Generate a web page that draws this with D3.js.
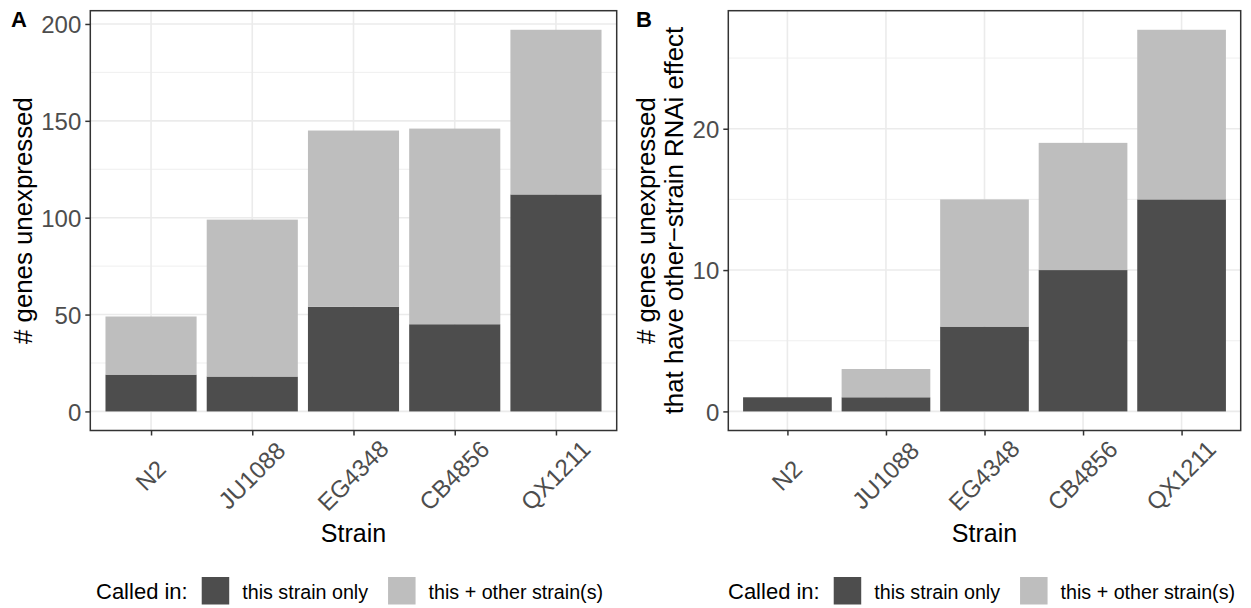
<!DOCTYPE html>
<html>
<head>
<meta charset="utf-8" />
<title>Unexpressed genes per strain</title>
<style>
  body { margin: 0; background: #fff; }
  #chart svg { display: block; font-family: "Liberation Sans", Arial, Helvetica, sans-serif; }
</style>
</head>
<body>
<div id="chart"></div>
<script src="https://cdnjs.cloudflare.com/ajax/libs/d3/7.8.5/d3.min.js"></script>
<script>
// data
var strains = ["N2", "JU1088", "EG4348", "CB4856", "QX1211"];
var seriesNames = ["this strain only", "this + other strain(s)"];
var seriesColors = ["#4d4d4d", "#bebebe"];

// panel A: all unexpressed genes
var onlyA = [19, 18, 54, 45, 112];
var otherA = [30, 81, 91, 101, 85];
var ticksA = [0, 50, 100, 150, 200];

// panel B: unexpressed genes with other-strain RNAi effect
var onlyB = [1, 1, 6, 10, 15];
var otherB = [0, 2, 9, 9, 12];
var ticksB = [0, 10, 20];

var width = 1251, height = 608;
var svg = d3.select("#chart").append("svg")
  .attr("width", width)
  .attr("height", height);

drawPanel({
  tag: "A", tagX: 11,
  left: 90.3, right: 616.7, top: 10.7, bottom: 430.5,
  only: onlyA, other: otherA, ticks: ticksA,
  ytitle: ["# genes unexpressed"], ytitleX: 32,
  legendX: 96
});
drawPanel({
  tag: "B", tagX: 636,
  left: 728.3, right: 1240.7, top: 10.7, bottom: 430.5,
  only: onlyB, other: otherB, ticks: ticksB,
  ytitle: ["# genes unexpressed", "that have other\u2212strain RNAi effect"], ytitleX: 683,
  legendX: 728
});

function drawPanel(p) {
  var rows = strains.map(function(s, i) {
    return { strain: s, only: p.only[i], other: p.other[i] };
  });
  var stack = d3.stack().keys(["only", "other"])(rows);
  var maxV = d3.max(rows, function(d) { return d.only + d.other; });

  var x = d3.scalePoint().domain(strains).range([p.left, p.right]).padding(0.6);
  var y = d3.scaleLinear().domain([-maxV * 0.05, maxV * 1.05]).range([p.bottom, p.top]);
  var barW = x.step() * 0.9;

  var g = svg.append("g");

  // minor grid
  var minor = [];
  for (var i = 0; i < p.ticks.length; i++) {
    var step = p.ticks[1] - p.ticks[0];
    var m = p.ticks[i] + step / 2;
    if (m < y.domain()[1]) minor.push(m);
  }
  g.selectAll(".minor").data(minor).enter().append("line")
    .attr("x1", p.left).attr("x2", p.right)
    .attr("y1", function(d) { return y(d); }).attr("y2", function(d) { return y(d); })
    .attr("stroke", "#ebebeb").attr("stroke-width", 0.8);

  // major grid
  g.selectAll(".hmaj").data(p.ticks).enter().append("line")
    .attr("x1", p.left).attr("x2", p.right)
    .attr("y1", function(d) { return y(d); }).attr("y2", function(d) { return y(d); })
    .attr("stroke", "#ebebeb").attr("stroke-width", 1.6);
  g.selectAll(".vmaj").data(strains).enter().append("line")
    .attr("x1", function(d) { return x(d); }).attr("x2", function(d) { return x(d); })
    .attr("y1", p.top).attr("y2", p.bottom)
    .attr("stroke", "#ebebeb").attr("stroke-width", 1.6);

  // bars
  g.selectAll(".layer").data(stack).enter().append("g")
    .attr("fill", function(d, i) { return seriesColors[i]; })
    .selectAll("rect").data(function(d) { return d; }).enter().append("rect")
    .attr("x", function(d) { return x(d.data.strain) - barW / 2; })
    .attr("width", barW)
    .attr("y", function(d) { return y(d[1]); })
    .attr("height", function(d) { return y(d[0]) - y(d[1]); });

  // border
  g.append("rect")
    .attr("x", p.left).attr("y", p.top)
    .attr("width", p.right - p.left).attr("height", p.bottom - p.top)
    .attr("fill", "none").attr("stroke", "#333333").attr("stroke-width", 1.5);

  // y axis
  var yAxis = g.append("g")
    .attr("transform", "translate(" + p.left + ",0)")
    .call(d3.axisLeft(y).tickValues(p.ticks).tickSize(5).tickPadding(4));
  yAxis.select(".domain").remove();
  yAxis.selectAll(".tick line").attr("stroke", "#333333").attr("stroke-width", 1.5);
  yAxis.selectAll(".tick text")
    .attr("fill", "#4d4d4d").style("font-size", "24px")
    .attr("dy", "0.36em");

  // x axis
  var xAxis = g.append("g")
    .attr("transform", "translate(0," + p.bottom + ")")
    .call(d3.axisBottom(x).tickSize(5).tickPadding(0));
  xAxis.select(".domain").remove();
  xAxis.selectAll(".tick line").attr("stroke", "#333333").attr("stroke-width", 1.5);
  xAxis.selectAll(".tick text")
    .attr("fill", "#4d4d4d").style("font-size", "24px")
    .attr("text-anchor", "middle")
    .attr("y", 0).attr("dy", "0.35em")
    .attr("transform", "translate(-1,45) rotate(-45)");

  // titles
  g.append("text")
    .attr("x", (p.left + p.right) / 2).attr("y", 542)
    .attr("text-anchor", "middle")
    .style("font-size", "25px")
    .text("Strain");

  var cy = (p.top + p.bottom) / 2;
  var n = p.ytitle.length;
  p.ytitle.forEach(function(t, i) {
    var bx = p.ytitleX - (n - 1 - i) * 28;
    g.append("text")
      .attr("transform", "translate(" + bx + "," + cy + ") rotate(-90)")
      .attr("text-anchor", "middle")
      .style("font-size", "25.8px")
      .text(t);
  });

  g.append("text")
    .attr("x", p.tagX).attr("y", 27)
    .style("font-size", "22px").style("font-weight", "bold")
    .text(p.tag);

  // legend
  var lg = g.append("g");
  var key = 27.5, baseY = 599.3, keyTop = 577;
  var title = lg.append("text")
    .attr("x", p.legendX).attr("y", baseY)
    .style("font-size", "22px")
    .text("Called in:");
  var cx = p.legendX + title.node().getComputedTextLength() + 14;
  seriesNames.forEach(function(name, i) {
    lg.append("rect")
      .attr("x", cx).attr("y", keyTop)
      .attr("width", key).attr("height", key)
      .attr("fill", seriesColors[i]);
    var t = lg.append("text")
      .attr("x", cx + key + 13).attr("y", baseY)
      .style("font-size", "19.7px")
      .text(name);
    cx = cx + key + 13 + t.node().getComputedTextLength() + 20;
  });
}
</script>
</body>
</html>
